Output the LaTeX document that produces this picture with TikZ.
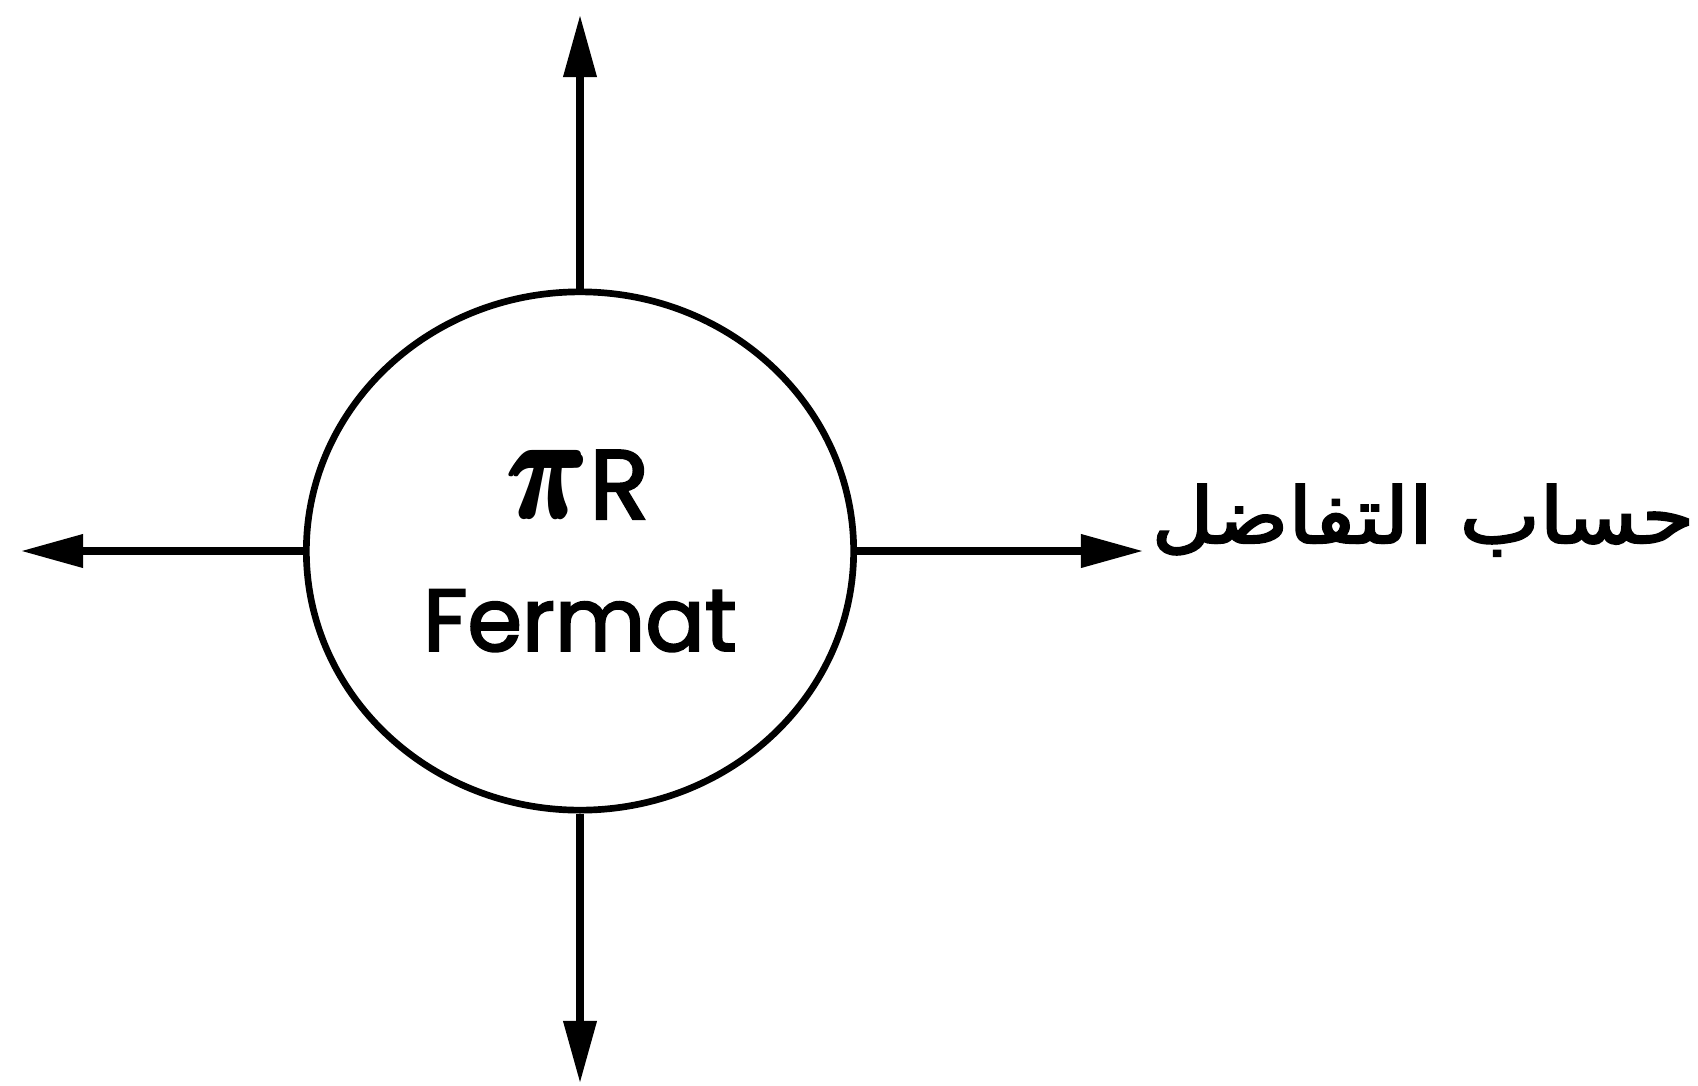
\documentclass[tikz,border=0pt]{standalone}
\usepackage{amsmath}
\usepackage{graphicx}
\usepackage{fontspec}
\usetikzlibrary{shapes.geometric,arrows.meta}
\setmainfont{Poppins}[FakeBold=2.4]
\newfontfamily\arabicfont[Script=Arabic,FakeBold=2.6]{DejaVu Sans}
\TeXXeTstate=1

\begin{document}
\begin{tikzpicture}[x=0.01cm,y=-0.01cm]

\tikzset{
  ring node/.style={
    draw,
    ellipse,
    line width=1.9pt,
    inner sep=0pt,
    minimum width=5.47cm,
    minimum height=5.18cm,
    align=center,
    font=\fontsize{25}{37.5}\selectfont,
  },
  out arrow/.style={
    line width=2pt,
    -{Triangle[length=0.62cm,width=0.32cm]},
  }
}

\useasboundingbox (0,0) rectangle (1698,1085);

% Centre
\node[ring node] (fermat) at (580,551)
  {\scalebox{1.25}[1.65]{\fontsize{46}{46}\selectfont$\pmb{\boldsymbol{\pi}}$}{\fontsize{28}{28}\selectfont R}\\Fermat};

% Arrow ends
\coordinate (up) at (580,15);
\coordinate (down) at (580,1083);
\coordinate (left) at (21,551);
\coordinate (right) at (1143,551);

% Label
\node[anchor=base east, inner sep=0pt, font=\fontsize{22}{26}\selectfont] (calc)
  at (1695,543) {\scalebox{1.1}[1]{\arabicfont\beginR حساب التفاضل\endR}};

% Edges
\draw[out arrow] (fermat.north) -- (up);
\draw[out arrow] (fermat.south) -- (down);
\draw[out arrow] (fermat.west) -- (left);
\draw[out arrow] (fermat.east) -- (right);

\end{tikzpicture}
\end{document}
